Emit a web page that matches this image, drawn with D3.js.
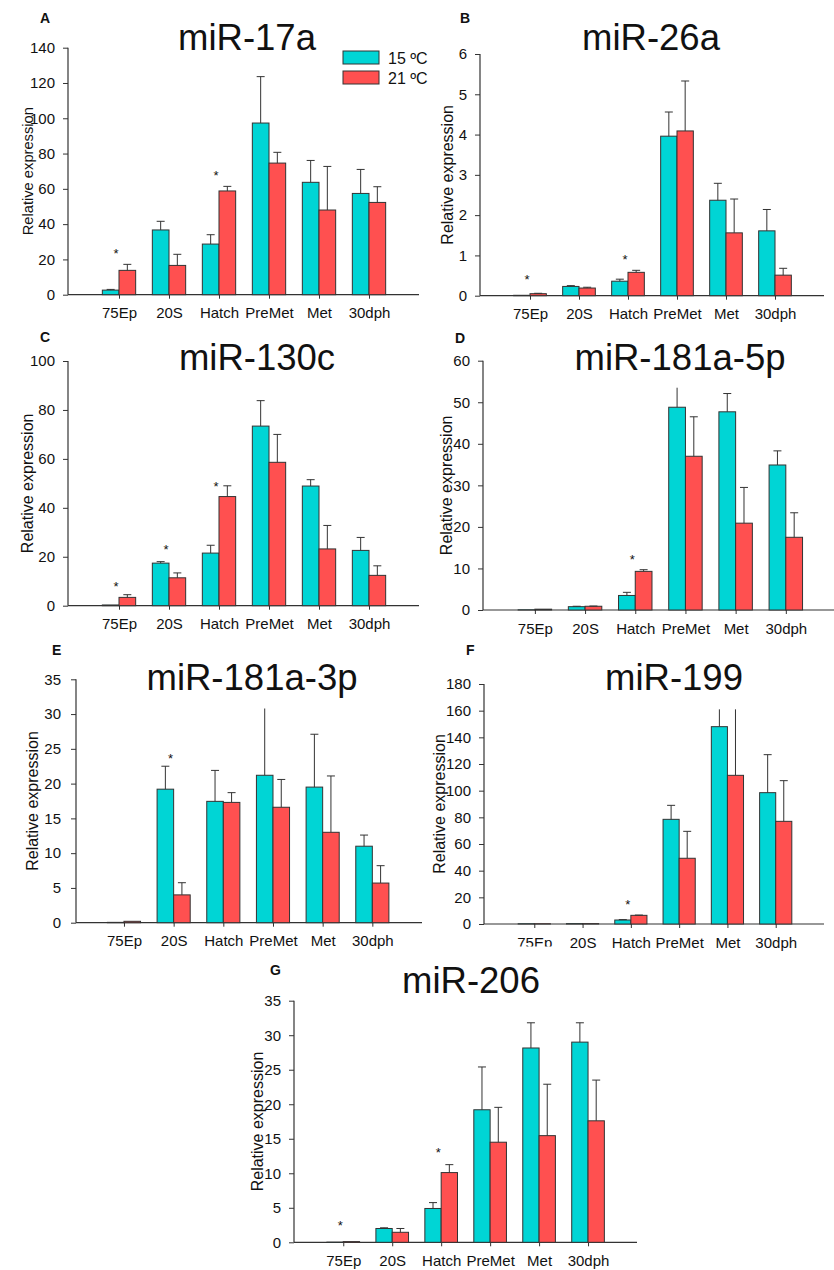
<!DOCTYPE html>
<html>
<head>
<meta charset="utf-8">
<script src="https://cdn.jsdelivr.net/npm/d3@7"></script>
<style>
  body { margin: 0; background: #fff; }
  text { font-family: "Liberation Sans", Arial, sans-serif; fill: #111; }
</style>
</head>
<body>
<div id="my_dataviz"></div>
<script>
// Stages on the x axis and the two temperatures
var stages = ["75Ep", "20S", "Hatch", "PreMet", "Met", "30dph"];
var temps = ["15 ºC", "21 ºC"];

// Means and error (SEM) for each miRNA, per temperature
var mir17a_15 = [2.6, 36.7, 28.7, 97.3, 63.7, 57.4];
var mir17a_15_err = [0.4, 4.9, 5.3, 26.3, 12.4, 13.6];
var mir17a_21 = [13.8, 16.6, 58.8, 74.6, 48.0, 52.3];
var mir17a_21_err = [3.4, 6.3, 2.6, 6.1, 24.7, 8.9];

var mir26a_15 = [0.01, 0.23, 0.36, 3.96, 2.37, 1.61];
var mir26a_15_err = [0, 0.02, 0.05, 0.60, 0.42, 0.53];
var mir26a_21 = [0.05, 0.19, 0.58, 4.09, 1.56, 0.51];
var mir26a_21_err = [0.01, 0.02, 0.05, 1.24, 0.84, 0.17];

var mir130c_15 = [0.3, 17.4, 21.5, 73.4, 48.9, 22.6];
var mir130c_15_err = [0, 0.6, 3.2, 10.4, 2.6, 5.3];
var mir130c_21 = [3.4, 11.4, 44.6, 58.6, 23.2, 12.4];
var mir130c_21_err = [1.1, 2.0, 4.4, 11.4, 9.6, 3.9];

var mir181a5p_15 = [0.05, 0.8, 3.5, 48.8, 47.7, 34.9];
var mir181a5p_15_err = [0, 0.1, 0.75, 4.7, 4.4, 3.4];
var mir181a5p_21 = [0.2, 0.9, 9.3, 37.0, 20.9, 17.5];
var mir181a5p_21_err = [0, 0.05, 0.4, 9.5, 8.6, 5.9];

var mir181a3p_15 = [0.05, 19.2, 17.45, 21.2, 19.5, 11.0];
var mir181a3p_15_err = [0, 3.3, 4.45, 9.6, 7.6, 1.6];
var mir181a3p_21 = [0.2, 4.0, 17.3, 16.6, 13.0, 5.7];
var mir181a3p_21_err = [0, 1.75, 1.4, 4.0, 8.1, 2.5];

var mir199_15 = [0.2, 0.3, 3.0, 78.5, 148, 98.5];
var mir199_15_err = [0, 0, 0.3, 10.5, 13, 28.5];
var mir199_21 = [0.2, 0.3, 6.5, 49.3, 111.5, 77];
var mir199_21_err = [0, 0, 0.2, 20.2, 49.5, 30.5];

var mir206_15 = [0.02, 2.0, 4.9, 19.2, 28.15, 29.0];
var mir206_15_err = [0, 0.1, 0.85, 6.2, 3.65, 2.8];
var mir206_21 = [0.1, 1.45, 10.1, 14.5, 15.45, 17.6];
var mir206_21_err = [0, 0.55, 1.15, 5.05, 7.45, 5.9];

// Significance marks: [stage index, height]
var mir17a_sig = [[0, 25], [2, 69]];
var mir26a_sig = [[0, 0.47], [2, 0.97]];
var mir130c_sig = [[0, 8.7], [1, 23.8], [2, 49.6]];
var mir181a5p_sig = [[2, 12.7]];
var mir181a3p_sig = [[1, 24.0]];
var mir199_sig = [[2, 16.75]];
var mir206_sig = [[0, 2.85], [2, 13.3]];

// Y axis maxima and steps
var yMax = [140, 6, 100, 60, 35, 180, 35];
var yStep = [20, 1, 20, 10, 5, 20, 5];

// error bars whose top is cut off in the original (no cap)
var uncapped = ["D-0-3", "E-0-3", "F-0-4", "F-1-4"];

var colors = ["#00d5d5", "#ff5050"];

// panel placement on the page
var layout = [
    { id: "A", x0: 69, x7: 419, axisX: 68, top: 47.7, bottom: 294.7, titleX: 247, titleY: 50, letterX: 40, letterY: 23, labelX: 28, labelSize: 14.7, tickPad: 8 },
    { id: "B", x0: 481, x7: 824, axisX: 480, top: 54, bottom: 295.7, titleX: 651, titleY: 50, letterX: 460, letterY: 23, labelX: 447, labelSize: 16, tickPad: 8 },
    { id: "C", x0: 69, x7: 419, axisX: 68, top: 361, bottom: 605.7, titleX: 257, titleY: 370, letterX: 40, letterY: 342, labelX: 27.5, labelSize: 16, tickPad: 8 },
    { id: "D", x0: 484.7, x7: 836, axisX: 483, top: 360.7, bottom: 610, titleX: 680, titleY: 370, letterX: 455, letterY: 343, labelX: 446, labelSize: 16, tickPad: 8 },
    { id: "E", x0: 74.3, x7: 422, axisX: 76, top: 679.3, bottom: 922.7, titleX: 252, titleY: 690, letterX: 52, letterY: 655, labelX: 32.5, labelSize: 16, tickPad: 10 },
    { id: "F", x0: 486, x7: 824, axisX: 484, top: 684, bottom: 924, titleX: 674, titleY: 690, letterX: 466, letterY: 655, labelX: 439, labelSize: 16, tickPad: 8 },
    { id: "G", x0: 294.3, x7: 637, axisX: 294, top: 1000.7, bottom: 1242.3, titleX: 471, titleY: 993, letterX: 270, letterY: 975, labelX: 257, labelSize: 16, tickPad: 8 }
];

var panels = [
    { title: "miR-17a", s15: mir17a_15, e15: mir17a_15_err, s21: mir17a_21, e21: mir17a_21_err, sig: mir17a_sig },
    { title: "miR-26a", s15: mir26a_15, e15: mir26a_15_err, s21: mir26a_21, e21: mir26a_21_err, sig: mir26a_sig },
    { title: "miR-130c", s15: mir130c_15, e15: mir130c_15_err, s21: mir130c_21, e21: mir130c_21_err, sig: mir130c_sig },
    { title: "miR-181a-5p", s15: mir181a5p_15, e15: mir181a5p_15_err, s21: mir181a5p_21, e21: mir181a5p_21_err, sig: mir181a5p_sig },
    { title: "miR-181a-3p", s15: mir181a3p_15, e15: mir181a3p_15_err, s21: mir181a3p_21, e21: mir181a3p_21_err, sig: mir181a3p_sig },
    { title: "miR-199", s15: mir199_15, e15: mir199_15_err, s21: mir199_21, e21: mir199_21_err, sig: mir199_sig },
    { title: "miR-206", s15: mir206_15, e15: mir206_15_err, s21: mir206_21, e21: mir206_21_err, sig: mir206_sig }
];

var svg = d3.select("#my_dataviz")
    .append("svg")
    .attr("width", 834)
    .attr("height", 1270);

svg.append("rect")
    .attr("width", 834)
    .attr("height", 1270)
    .attr("fill", "#fff");

function drawPanel(p, i) {
    var L = layout[i];
    var g = svg.append("g");

    var x = d3.scaleLinear().domain([0, 7]).range([L.x0, L.x7]);
    var y = d3.scaleLinear().domain([0, yMax[i]]).range([L.bottom, L.top]);
    var unit = x(1) - x(0);
    var bw = unit / 3;

    // y axis
    var yaxis = d3.axisLeft(y)
        .tickValues(d3.range(0, yMax[i] + yStep[i] / 2, yStep[i]))
        .tickSize(5)
        .tickPadding(L.tickPad)
        .tickFormat(d3.format("d"));
    var ya = g.append("g")
        .attr("transform", "translate(" + L.axisX + ",0)")
        .call(yaxis);
    ya.select(".domain").attr("d", "M0," + L.top + "V" + L.bottom);

    // x axis
    var xaxis = d3.axisBottom(x)
        .tickValues([1, 2, 3, 4, 5, 6])
        .tickSize(4)
        .tickPadding(9)
        .tickFormat(function (d) { return stages[d - 1]; });
    var xa = g.append("g")
        .attr("transform", "translate(0," + L.bottom + ")")
        .call(xaxis);
    xa.select(".domain").attr("d", "M" + L.axisX + ",0H" + Math.min(L.x7, 834));

    [ya, xa].forEach(function (a) {
        a.select(".domain").attr("stroke", "#333").attr("stroke-width", 1.2);
        a.selectAll(".tick line").attr("stroke", "#333");
        a.selectAll(".tick text")
            .style("font-family", "Liberation Sans, Arial, sans-serif")
            .style("font-size", "15px")
            .attr("fill", "#111");
    });

    // bars
    var series = [
        { vals: p.s15, errs: p.e15 },
        { vals: p.s21, errs: p.e21 }
    ];
    series.forEach(function (s, k) {
        var rows = s.vals.map(function (v, j) { return { v: v, e: s.errs[j], j: j }; });
        var left = function (d) { return x(d.j + 1) - bw + k * bw; };

        g.selectAll(null)
            .data(rows)
            .join("rect")
            .attr("x", left)
            .attr("y", function (d) { return y(d.v); })
            .attr("width", bw)
            .attr("height", function (d) { return y(0) - y(d.v); })
            .attr("fill", colors[k])
            .attr("stroke", "#333")
            .attr("stroke-width", 1);

        // error bars, upward only
        var withErr = rows.filter(function (d) { return d.e > 0; });
        g.selectAll(null)
            .data(withErr)
            .join("line")
            .attr("x1", function (d) { return left(d) + bw / 2; })
            .attr("x2", function (d) { return left(d) + bw / 2; })
            .attr("y1", function (d) { return y(d.v); })
            .attr("y2", function (d) { return y(d.v + d.e); })
            .attr("stroke", "#333")
            .attr("stroke-width", 1);
        g.selectAll(null)
            .data(withErr.filter(function (d) { return uncapped.indexOf(L.id + "-" + k + "-" + d.j) < 0; }))
            .join("line")
            .attr("x1", function (d) { return left(d) + bw / 2 - 4; })
            .attr("x2", function (d) { return left(d) + bw / 2 + 4; })
            .attr("y1", function (d) { return y(d.v + d.e); })
            .attr("y2", function (d) { return y(d.v + d.e); })
            .attr("stroke", "#333")
            .attr("stroke-width", 1);
    });

    // significance asterisks
    g.selectAll(null)
        .data(p.sig)
        .join("text")
        .attr("x", function (d) { return x(d[0] + 1) - 3; })
        .attr("y", function (d) { return y(d[1]) + 7; })
        .attr("text-anchor", "middle")
        .style("font-size", "13px")
        .text("*");

    // y label
    g.append("text")
        .attr("transform", "translate(" + L.labelX + "," + ((L.top + L.bottom) / 2) + ") rotate(-90)")
        .attr("text-anchor", "middle")
        .attr("dy", "0.35em")
        .style("font-size", L.labelSize + "px")
        .text("Relative expression");

    // title and panel letter
    g.append("text")
        .attr("x", L.titleX)
        .attr("y", L.titleY)
        .attr("text-anchor", "middle")
        .style("font-size", "36.5px")
        .text(p.title);
    g.append("text")
        .attr("x", L.letterX)
        .attr("y", L.letterY)
        .style("font-size", "14px")
        .style("font-weight", "bold")
        .text(L.id);
}

panels.forEach(function (p, i) {
    if (i === 6) {
        // panel G's frame covers the lower part of one of F's labels
        svg.append("rect")
            .attr("x", 505).attr("y", 946.5)
            .attr("width", 52).attr("height", 14)
            .attr("fill", "#fff");
    }
    drawPanel(p, i);
});

// legend (panel A)
var legend = svg.append("g");
temps.forEach(function (t, k) {
    legend.append("rect")
        .attr("x", 343).attr("y", 51 + k * 20)
        .attr("width", 36).attr("height", 13)
        .attr("fill", colors[k])
        .attr("stroke", "#333");
    legend.append("text")
        .attr("x", 388).attr("y", 63.5 + k * 20)
        .style("font-size", "16px")
        .text(t);
});
</script>
</body>
</html>
